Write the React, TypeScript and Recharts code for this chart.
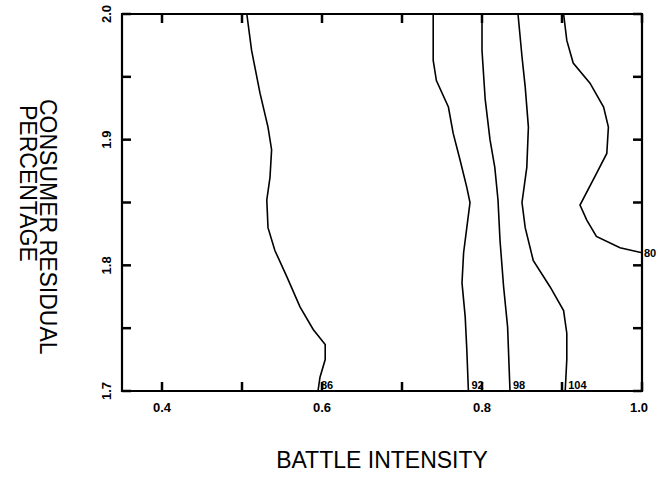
import React from "react";
import {Line, LineChart, ReferenceArea, XAxis, YAxis} from "recharts";

// axis ticks (minor ticks carry an empty label)
const xTicks = [0.4, 0.5, 0.6, 0.7, 0.8, 0.9, 1.0];
const xTickLabels = ["0.4", "", "0.6", "", "0.8", "", "1.0"];
const yTicks = [1.7, 1.75, 1.8, 1.85, 1.9, 1.95, 2.0];
const yTickLabels = ["1.7", "", "1.8", "", "1.9", "", "2.0"];

// contour lines: battle intensity (x) against consumer residual percentage (y)
const c86Intensity = [0.506, 0.512, 0.5225, 0.5325, 0.537, 0.535, 0.531, 0.5325, 0.541, 0.556, 0.5725, 0.589, 0.604, 0.604, 0.5975, 0.595];
const c86Residual = [2.0, 1.971, 1.937, 1.91, 1.892, 1.87, 1.852, 1.83, 1.812, 1.791, 1.767, 1.749, 1.737, 1.725, 1.711, 1.7];

const c92Intensity = [0.739, 0.739, 0.743, 0.758, 0.764, 0.7725, 0.781, 0.785, 0.781, 0.777, 0.775, 0.779, 0.781, 0.783];
const c92Residual = [2.0, 1.963, 1.947, 1.926, 1.905, 1.884, 1.862, 1.85, 1.83, 1.81, 1.786, 1.759, 1.733, 1.7];

const c98Intensity = [0.8, 0.8, 0.804, 0.81, 0.816, 0.82, 0.8225, 0.827, 0.832, 0.835];
const c98Residual = [2.0, 1.971, 1.932, 1.9, 1.878, 1.852, 1.82, 1.783, 1.751, 1.7];

const c104Intensity = [0.845, 0.85, 0.854, 0.858, 0.856, 0.85, 0.854, 0.864, 0.885, 0.902, 0.906, 0.906, 0.904];
const c104Residual = [2.0, 1.966, 1.942, 1.91, 1.878, 1.85, 1.83, 1.804, 1.783, 1.764, 1.746, 1.725, 1.7];

const c80Intensity = [0.902, 0.906, 0.914, 0.935, 0.952, 0.958, 0.956, 0.943, 0.9225, 0.931, 0.943, 0.9725, 1.0];
const c80Residual = [2.0, 1.979, 1.961, 1.945, 1.926, 1.91, 1.889, 1.873, 1.848, 1.836, 1.823, 1.814, 1.81];

const contourNames = ["86", "92", "98", "104", "80"];
const contourXs = [c86Intensity, c92Intensity, c98Intensity, c104Intensity, c80Intensity];
const contourYs = [c86Residual, c92Residual, c98Residual, c104Residual, c80Residual];

const X_DOMAIN: [number, number] = [0.35, 1.0];
const Y_DOMAIN: [number, number] = [1.7, 2.0];

const contours = contourNames.map((name, i) => ({
    name,
    data: contourXs[i].map((x, j) => ({x, y: contourYs[i][j]})),
}));

const FONT = "'Liberation Sans', Arial, sans-serif";
const TICK_LEN = 9;
const PLOT_W = 520;
const PLOT_H = 377;

// bottom axis tick: inward marks on bottom and top edges, plus label
const BottomTick = (props: any) => {
    const {x, y, index} = props;
    const label = xTickLabels[index] ?? "";
    const top = y - PLOT_H;
    const lx = index === xTicks.length - 1 ? x - 3 : x;
    return <g>
        <line x1={x} y1={y} x2={x} y2={y - TICK_LEN} stroke="#000" strokeWidth={2.5} />
        <line x1={x} y1={top} x2={x} y2={top + TICK_LEN} stroke="#000" strokeWidth={2.5} />
        <text x={lx} y={y + 21} textAnchor="middle" fontFamily={FONT} fontWeight="bold"
              fontSize={13} fill="#000">{label}</text>
    </g>;
};

// left axis tick: inward marks on left and right edges, plus rotated label
const LeftTick = (props: any) => {
    const {x, y, index} = props;
    const label = yTickLabels[index] ?? "";
    const lx = x - 11;
    const right = x + PLOT_W;
    return <g>
        <line x1={x} y1={y} x2={x + TICK_LEN} y2={y} stroke="#000" strokeWidth={2.5} />
        <line x1={right} y1={y} x2={right - TICK_LEN} y2={y} stroke="#000" strokeWidth={2.5} />
        <text x={lx} y={y} transform={`rotate(-90, ${lx}, ${y})`} textAnchor="middle"
              fontFamily={FONT} fontWeight="bold" fontSize={13} fill="#000">{label}</text>
    </g>;
};

const XTitle = (props: any) => {
    const {viewBox} = props;
    const cx = viewBox.x + viewBox.width / 2;
    return <text x={cx} y={viewBox.y + 77} textAnchor="middle" fontFamily={FONT}
                 fontSize={23} fill="#000">BATTLE INTENSITY</text>;
};

const YTitle = () => {
    return <g fontFamily={FONT} fontSize={23} fill="#000">
        <text x={48} y={99} transform="rotate(90, 48, 99)" textAnchor="start"
              dominantBaseline="central">CONSUMER RESIDUAL</text>
        <text x={28} y={105} transform="rotate(90, 28, 105)" textAnchor="start"
              dominantBaseline="central">PERCENTAGE</text>
    </g>;
};

const contourLabel = (name: string, count: number, endsAtRight: boolean) => (props: any) => {
    const {x, y, index} = props;
    if (index !== count - 1) return <g />;
    if (endsAtRight) {
        return <text x={x + 2} y={y + 4} fontFamily={FONT} fontWeight="bold" fontSize={11}
                     fill="#000">{name}</text>;
    }
    return <text x={x + 3} y={y - 2} fontFamily={FONT} fontWeight="bold" fontSize={11}
                 fill="#000">{name}</text>;
};

const App: React.FC = () => {
    return <div style={{position: "absolute", left: 0, top: 0, width: 658, height: 478, background: "#fff"}}>
        <LineChart width={658} height={478} margin={{top: 14, right: 16, left: 0, bottom: 0}}>
            <XAxis dataKey="x" type="number" domain={X_DOMAIN} ticks={xTicks} allowDataOverflow
                   height={87} tickSize={0} tickMargin={0} tickLine={false} axisLine={false}
                   tick={<BottomTick />} interval={0} label={<XTitle />} />
            <YAxis type="number" domain={Y_DOMAIN} ticks={yTicks} allowDataOverflow width={122}
                   tickSize={0} tickMargin={0} tickLine={false} axisLine={false}
                   tick={<LeftTick />} interval={0} label={<YTitle />} />
            <ReferenceArea x1={X_DOMAIN[0]} x2={X_DOMAIN[1]} y1={Y_DOMAIN[0]} y2={Y_DOMAIN[1]}
                           fill="none" stroke="#000" strokeWidth={2.2} ifOverflow="visible" />
            {contours.map((c) => (
                <Line key={c.name} data={c.data} dataKey="y" name={c.name} type="linear"
                      stroke="#000" strokeWidth={1.6} dot={false} activeDot={false}
                      isAnimationActive={false}
                      label={contourLabel(c.name, c.data.length, c.data[c.data.length - 1].x >= X_DOMAIN[1])} />
            ))}
        </LineChart>
    </div>;
};

export default App;
